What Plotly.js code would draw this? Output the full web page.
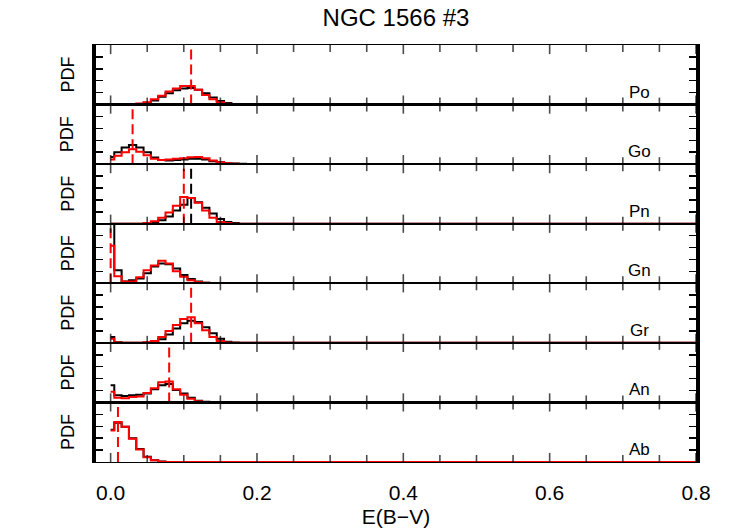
<!DOCTYPE html>
<html>
<head>
<meta charset="utf-8">
<script src="https://cdn.plot.ly/plotly-3.0.1.min.js"></script>
<style>html,body{margin:0;padding:0;background:#fff;}#chart{width:739px;height:528px;}</style>
</head>
<body>
<div id="chart"></div>
<script>
// Bin centres of E(B-V) histograms (last point closes the zero tail to 0.8)
const E_bins = [0.00,0.01,0.02,0.03,0.04,0.05,0.06,0.07,0.08,0.09,0.10,0.11,0.12,0.13,0.14,0.15,0.16,0.17,0.18,0.19,0.80];

const panel_names = ['Po','Go','Pn','Gn','Gr','An','Ab'];

const Po_black = [0,0,0,0.005,0.01,0.03,0.07,0.13,0.19,0.24,0.27,0.28,0.25,0.19,0.12,0.06,0.025,0.01,0,0,0];
const Po_red   = [0,0,0,0.01,0.02,0.04,0.09,0.15,0.22,0.27,0.31,0.31,0.25,0.16,0.09,0.04,0.015,0.005,0,0,0];

const Go_black = [0.12,0.20,0.28,0.32,0.28,0.20,0.11,0.07,0.06,0.07,0.08,0.09,0.09,0.08,0.05,0.03,0.015,0.01,0.005,0,0];
const Go_red   = [0.08,0.14,0.20,0.25,0.21,0.15,0.09,0.07,0.08,0.09,0.10,0.115,0.12,0.10,0.06,0.03,0.015,0.005,0,0,0];

const Pn_black = [0,0,0,0,0,0.005,0.02,0.06,0.12,0.22,0.32,0.43,0.36,0.27,0.17,0.08,0.03,0.01,0,0,0];
const Pn_red   = [0,0,0,0,0,0.01,0.04,0.10,0.19,0.30,0.45,0.43,0.35,0.22,0.10,0.03,0.01,0,0,0,0];

const Gn_black = [1.20,0.22,0.03,0.05,0.08,0.17,0.28,0.33,0.32,0.25,0.14,0.07,0.03,0.01,0,0,0,0,0,0,0];
const Gn_red   = [0.63,0.12,0.03,0.03,0.10,0.22,0.30,0.38,0.33,0.20,0.11,0.05,0.02,0.01,0,0,0,0,0,0,0];

const Gr_black = [0.10,0.01,0,0,0,0.005,0.02,0.06,0.14,0.24,0.33,0.37,0.35,0.26,0.16,0.07,0.02,0.005,0,0,0];
const Gr_red   = [0.07,0.005,0,0,0,0.01,0.03,0.10,0.20,0.30,0.40,0.43,0.33,0.21,0.10,0.03,0.005,0,0,0,0];

const An_black = [0.29,0.12,0.11,0.12,0.13,0.15,0.22,0.29,0.31,0.21,0.15,0.08,0.03,0.01,0,0,0,0,0,0,0];
const An_red   = [0.18,0.08,0.07,0.09,0.10,0.16,0.24,0.34,0.35,0.22,0.13,0.06,0.02,0.005,0,0,0,0,0,0,0];

const Ab_black = [0.54,0.66,0.59,0.40,0.22,0.09,0.03,0.01,0,0,0,0,0,0,0,0,0,0,0,0,0];
const Ab_red   = [0.53,0.67,0.59,0.39,0.21,0.08,0.03,0.005,0,0,0,0,0,0,0,0,0,0,0,0,0];

const black_series = [Po_black, Go_black, Pn_black, Gn_black, Gr_black, An_black, Ab_black];
const red_series   = [Po_red, Go_red, Pn_red, Gn_red, Gr_red, An_red, Ab_red];

// median markers (dashed verticals)
const red_medians   = [0.11, 0.03, 0.10, 0.00, 0.11, 0.08, 0.01];
const black_medians = [null, null, 0.11, null, null, null, null];

// x tick positions (every 0.05) and labels (only at 0.2 steps)
const x_tick_vals = [0.00,0.05,0.10,0.15,0.20,0.25,0.30,0.35,0.40,0.45,0.50,0.55,0.60,0.65,0.70,0.75,0.80];
const x_tick_text = ['0.0','','','','0.2','','','','0.4','','','','0.6','','','','0.8'];

const N = panel_names.length;
const traces = [];
const layout = {
  width: 739, height: 528,
  margin: {l: 96, r: 43, t: 45, b: 66, pad: 0},
  paper_bgcolor: '#ffffff', plot_bgcolor: '#ffffff',
  showlegend: false,
  font: {family: 'Liberation Sans, Arial, sans-serif', color: '#000000'},
  title: {text: 'NGC 1566 #3', x: 0.5, xref: 'paper', y: 1 - 18/528, yref: 'container',
          xanchor: 'center', yanchor: 'middle', font: {size: 24, color: '#000'}},
  annotations: [],
};

for (let i = 0; i < N; i++) {
  const sfx = i === 0 ? '' : String(i + 1);
  const xa = 'x' + sfx, ya = 'y' + sfx;
  traces.push({x: E_bins, y: black_series[i], xaxis: xa, yaxis: ya, type: 'scatter', mode: 'lines',
               line: {shape: 'hvh', color: '#000000', width: 2}, hoverinfo: 'skip'});
  if (black_medians[i] !== null) {
    traces.push({x: [black_medians[i], black_medians[i]], y: [0, 1], xaxis: xa, yaxis: ya, type: 'scatter',
                 mode: 'lines', line: {color: '#000000', width: 2, dash: '10px,5px'}, hoverinfo: 'skip'});
  }
  traces.push({x: E_bins, y: red_series[i], xaxis: xa, yaxis: ya, type: 'scatter', mode: 'lines',
               line: {shape: 'hvh', color: '#ff0000', width: 2}, hoverinfo: 'skip'});
  traces.push({x: [red_medians[i], red_medians[i]], y: [0, 1], xaxis: xa, yaxis: ya, type: 'scatter',
               mode: 'lines', line: {color: '#ff0000', width: 2, dash: '10px,5px'}, hoverinfo: 'skip'});

  // inward x tick marks on bottom (y=0) and top (y=1) edges; the half outside the panel is clipped
  const tick_x = x_tick_vals.concat(x_tick_vals);
  const tick_y = x_tick_vals.map(() => 0).concat(x_tick_vals.map(() => 1));
  const tick_size = x_tick_text.map(t => t ? 13 : 10).concat(x_tick_text.map(t => t ? 13 : 10));
  traces.push({x: tick_x, y: tick_y, xaxis: xa, yaxis: ya, type: 'scatter', mode: 'markers',
               cliponaxis: true, hoverinfo: 'skip',
               marker: {symbol: 'line-ns', size: tick_size, color: '#000000',
                        line: {color: '#000000', width: 1.6}}});

  const last = i === N - 1;
  layout['xaxis' + sfx] = {
    domain: [0, 1], anchor: ya, range: [-0.02, 0.8],
    tickmode: 'array', tickvals: x_tick_vals, ticktext: x_tick_text, ticks: '',
    showline: true, linewidth: 1.2, linecolor: '#000', mirror: true,
    showgrid: false, zeroline: false, fixedrange: true,
    showticklabels: last, tickfont: {size: 21, color: '#000'},
  };
  if (last) {
    layout['xaxis' + sfx].ticklabelstandoff = 12;
    layout['xaxis' + sfx].title = {text: 'E(B−V)', font: {size: 21, color: '#000'}, standoff: 5};
  }
  layout['yaxis' + sfx] = {
    domain: [1 - (i + 1) / N, 1 - i / N], anchor: xa, range: [0, 1],
    tick0: 0, dtick: 0.2, ticks: 'inside', ticklen: 7, tickwidth: 1.5, tickcolor: '#000',
    showline: true, linewidth: 4, linecolor: '#000', mirror: 'ticks',
    showticklabels: false, showgrid: false, zeroline: false, fixedrange: true,
  };
  layout.annotations.push({text: 'PDF', xref: 'paper', yref: ya + ' domain', x: -0.047, y: 0.5,
    xanchor: 'center', yanchor: 'middle', textangle: -90, showarrow: false, font: {size: 18, color: '#000'}});
  layout.annotations.push({text: panel_names[i], xref: 'paper', yref: ya + ' domain', x: 0.906, y: 0.21,
    xanchor: 'center', yanchor: 'middle', showarrow: false, font: {size: 17, color: '#000'}});
}

Plotly.newPlot('chart', traces, layout, {staticPlot: true, displayModeBar: false});
</script>
</body>
</html>
